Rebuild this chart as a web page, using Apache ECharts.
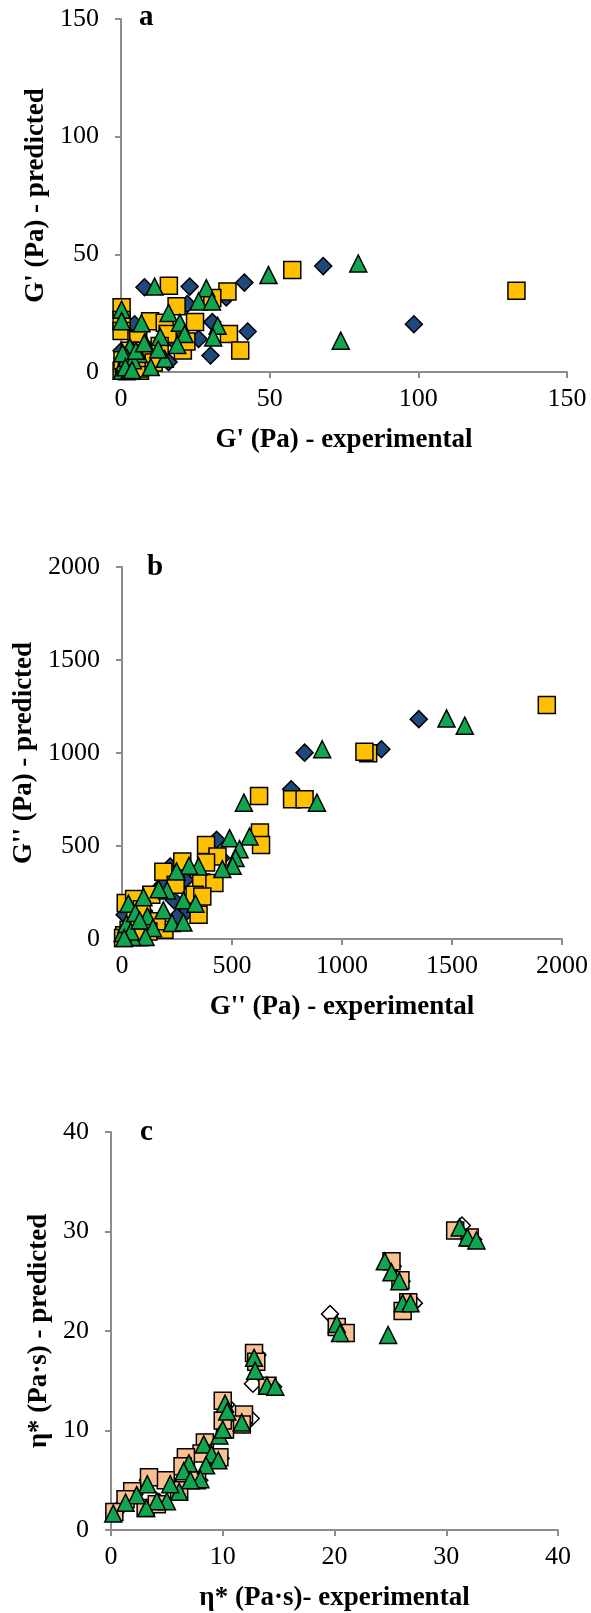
<!DOCTYPE html>
<html>
<head>
<meta charset="utf-8">
<script src="https://cdn.jsdelivr.net/npm/echarts@6/dist/echarts.min.js"></script>
<style>
  html, body { margin: 0; padding: 0; background: #fff; }
  #chart { width: 591px; height: 1613px; }
</style>
</head>
<body>
<div id="chart"></div>
<script>
// Panel a: G' experimental vs predicted (Pa)
const gStorageTicks = [0, 50, 100, 150];
const gStorageDiamond = [
  [68, 45], [41.5, 38], [7.9, 36], [23.1, 36.3], [35.4, 31.7], [22.3, 28.9],
  [30.7, 21.2], [4.6, 20.3], [42.6, 17.2], [26.1, 14], [30.1, 7], [16, 4.2],
  [98.5, 20.3], [0.3, 1], [1, 3], [2, 5], [0.5, 6], [3, 2], [1.5, 0.5],
  [5, 4], [2.5, 8], [4, 1], [0.2, 9], [6, 0.5], [9, 6], [12, 10], [18, 13]
];
const gStorageSquare = [
  [57.6, 43.3], [133, 34.5], [16.1, 36.6], [35.8, 34.2], [30.7, 31.4],
  [18.7, 27.9], [0.2, 27.5], [0.2, 22.1], [0.2, 17.4], [9.8, 21.6],
  [14.7, 20.9], [24.9, 21.2], [36.3, 16.1], [40.1, 9.1], [20.8, 9.1],
  [15.7, 16.1], [5.2, 14.0], [5.8, 13.6], [3, 9], [6.4, 0.5], [0.2, 0.5],
  [1, 2], [2, 4], [3, 7], [0.5, 5], [4, 3], [6, 1.5], [2, 0.3], [7, 9],
  [8, 6], [11, 4], [13, 11], [22, 13]
];
const gStorageTriangle = [
  [79.8, 46.1], [49.6, 41.2], [73.9, 13.3], [11.3, 36.3], [28.7, 35.6],
  [26.1, 30], [30.6, 30], [16, 25.1], [0.2, 26.5], [0.2, 21.6], [6.9, 20.7],
  [19.8, 20.9], [32.5, 19.6], [21.4, 16.1], [13.2, 14.9], [31, 14.7],
  [8.1, 12.6], [18.9, 11.5], [14.7, 5.6], [10, 2.1], [6, 7.7], [1.1, 2.1],
  [3, 10.5], [0.3, 0.5], [1, 4], [2, 6], [3, 1], [0.5, 8], [4, 5],
  [1.5, 2], [5, 9], [12.5, 9.6], [7.8, 12.2], [3.7, 0.8]
];

// Panel b: G'' experimental vs predicted (Pa)
const gLossTicks = [0, 500, 1000, 1500, 2000];
const gLossDiamond = [
  [1349, 1182], [1179, 1020], [830, 1002], [769, 805], [430, 533], [451, 435],
  [287, 318], [236, 208], [287, 140], [219, 390], [12, 131], [150, 250],
  [190, 300], [60, 80], [20, 30], [100, 150], [5, 10], [40, 60], [250, 120]
];
const gLossSquare = [
  [1931, 1258], [1119, 998], [1102, 1007], [623, 769], [773, 751], [830, 751],
  [627, 572], [632, 506], [382, 506], [434, 444], [382, 411], [274, 417],
  [188, 361], [360, 304], [420, 301], [244, 292], [330, 238], [365, 229],
  [348, 131], [17, 193], [55, 215], [133, 238], [193, 50], [158, 95],
  [10, 20], [30, 50], [60, 110], [90, 160], [120, 40], [80, 10], [5, 5]
];
const gLossTriangle = [
  [1475, 1186], [1558, 1147], [910, 1020], [554, 733], [886, 733], [580, 551],
  [489, 542], [534, 483], [516, 435], [503, 394], [456, 376], [348, 390],
  [305, 394], [248, 363], [205, 261], [167, 268], [279, 208], [334, 190],
  [98, 225], [29, 190], [188, 154], [115, 122], [227, 86], [279, 89],
  [141, 59], [107, 11], [46, 11], [3, 32], [20, 80], [60, 140], [40, 40],
  [80, 100], [10, 5]
];

// Panel c: complex viscosity experimental vs predicted (Pa·s)
const etaTicks = [0, 10, 20, 30, 40];
const etaDiamond = [
  [19.6, 21.7], [31.4, 30.6], [12.7, 14.7], [12.5, 11.2], [27.1, 22.8],
  [25.2, 26.5], [26, 25], [20.8, 20], [13.1, 17.6], [14.5, 14.4],
  [10.3, 12.6], [11.9, 10.6], [8.5, 8.8], [9.8, 7.2], [6.7, 6.5],
  [7.9, 5], [5.2, 4.8], [4.3, 2.8], [3.3, 5], [2.1, 3.6], [1.1, 2.6],
  [0.3, 1.7], [32.4, 29.2]
];
const etaSquare = [
  [30.8, 30.1], [32.1, 29.4], [25.1, 27], [25.9, 25.1], [26.6, 22.9],
  [26.1, 22.0], [20.2, 20.4], [21, 19.8], [12.8, 17.8], [13, 16.9],
  [14, 14.5], [10, 13.0], [11.9, 11.6], [11.7, 10.6], [10.2, 10.1],
  [10.0, 11.0], [8.4, 8.8], [8.1, 7.7], [9.7, 7.3], [6.7, 7.3], [6.4, 6.4],
  [7.7, 5.0], [6.1, 4.0], [4.9, 5.0], [3.4, 5.3], [3.1, 2.2], [4.1, 2.6],
  [1.9, 3.9], [1.3, 3.1], [0.3, 1.8]
];
const etaTriangle = [
  [31.2, 30.4], [31.9, 29.4], [32.7, 29.1], [24.5, 27], [25.1, 25.9],
  [25.8, 25.0], [24.8, 19.6], [26.1, 22.8], [26.8, 22.8], [20.2, 20.7],
  [20.5, 19.8], [12.8, 17.3], [12.9, 16.0], [13.96, 14.5], [14.7, 14.4],
  [10.2, 12.7], [10.4, 11.9], [11.7, 10.8], [9.7, 9.5], [10.0, 10.1],
  [8.3, 8.6], [9.0, 7.6], [9.6, 7.0], [8.5, 6.5], [6.97, 6.7], [6.5, 5.9],
  [8.0, 5.1], [7.1, 5.0], [6.1, 3.85], [5.3, 4.6], [5.0, 2.9], [4.1, 2.9],
  [3.25, 4.6], [3.15, 2.2], [2.3, 3.5], [1.3, 2.75], [0.2, 1.65]
];

const SERIF = '"Liberation Serif", "Times New Roman", serif';
const AXIS_GREY = '#8c8c8c';

function valueAxis(ticks, gridIndex, name, nameGap, labelMargin) {
  return {
    type: 'value',
    gridIndex: gridIndex,
    min: ticks[0],
    max: ticks[ticks.length - 1],
    interval: ticks[1] - ticks[0],
    name: name,
    nameLocation: 'middle',
    nameGap: nameGap,
    nameTextStyle: { fontFamily: SERIF, fontWeight: 'bold', fontSize: 27, color: '#000' },
    axisLine: { show: true, onZero: false, lineStyle: { color: AXIS_GREY, width: 2 } },
    axisTick: { show: true, inside: false, length: 6, lineStyle: { color: AXIS_GREY, width: 2 } },
    splitLine: { show: false },
    axisLabel: {
      fontFamily: SERIF, fontSize: 26, color: '#000', margin: labelMargin,
      formatter: function (v) { return String(v); }
    }
  };
}

function markSeries(data, gridIndex, symbol, color, size) {
  return {
    type: 'scatter',
    xAxisIndex: gridIndex,
    yAxisIndex: gridIndex,
    data: data,
    symbol: symbol,
    symbolSize: size,
    itemStyle: { color: color, borderColor: '#000', borderWidth: 1.5, opacity: 1 },
    emphasis: { disabled: true }
  };
}

const chart = echarts.init(document.getElementById('chart'), null, { renderer: 'canvas' });
chart.setOption({
  animation: false,
  backgroundColor: '#ffffff',
  grid: [
    { left: 121, top: 19, width: 446, height: 353 },
    { left: 122, top: 567, width: 440, height: 372 },
    { left: 111, top: 1132, width: 447, height: 399 }
  ],
  xAxis: [
    valueAxis(gStorageTicks, 0, "G' (Pa) - experimental", 55, 14),
    valueAxis(gLossTicks, 1, "G'' (Pa) - experimental", 55, 14),
    valueAxis(etaTicks, 2, 'η* (Pa·s)- experimental', 55, 14)
  ],
  yAxis: [
    valueAxis(gStorageTicks, 0, "G' (Pa) - predicted", 66, 22),
    valueAxis(gLossTicks, 1, "G'' (Pa) - predicted", 80, 22),
    valueAxis(etaTicks, 2, 'η* (Pa·s) - predicted', 58, 22)
  ],
  graphic: [
    { type: 'text', x: 139, y: 18, style: { text: 'a', font: 'bold 29px ' + SERIF, fill: '#000', verticalAlign: 'middle' } },
    { type: 'text', x: 147, y: 568, style: { text: 'b', font: 'bold 29px ' + SERIF, fill: '#000', verticalAlign: 'middle' } },
    { type: 'text', x: 140, y: 1133, style: { text: 'c', font: 'bold 29px ' + SERIF, fill: '#000', verticalAlign: 'middle' } }
  ],
  series: [
    markSeries(gStorageDiamond, 0, 'diamond', '#1F497D', 17),
    markSeries(gStorageSquare, 0, 'rect', '#FFC000', 17),
    markSeries(gStorageTriangle, 0, 'triangle', '#0FA64F', 17),
    markSeries(gLossDiamond, 1, 'diamond', '#1F497D', 17),
    markSeries(gLossSquare, 1, 'rect', '#FFC000', 17),
    markSeries(gLossTriangle, 1, 'triangle', '#0FA64F', 17),
    markSeries(etaDiamond, 2, 'diamond', '#FFFFFF', 17),
    markSeries(etaSquare, 2, 'rect', '#FAC090', 17),
    markSeries(etaTriangle, 2, 'triangle', '#0FA64F', 17)
  ]
});
</script>
</body>
</html>
